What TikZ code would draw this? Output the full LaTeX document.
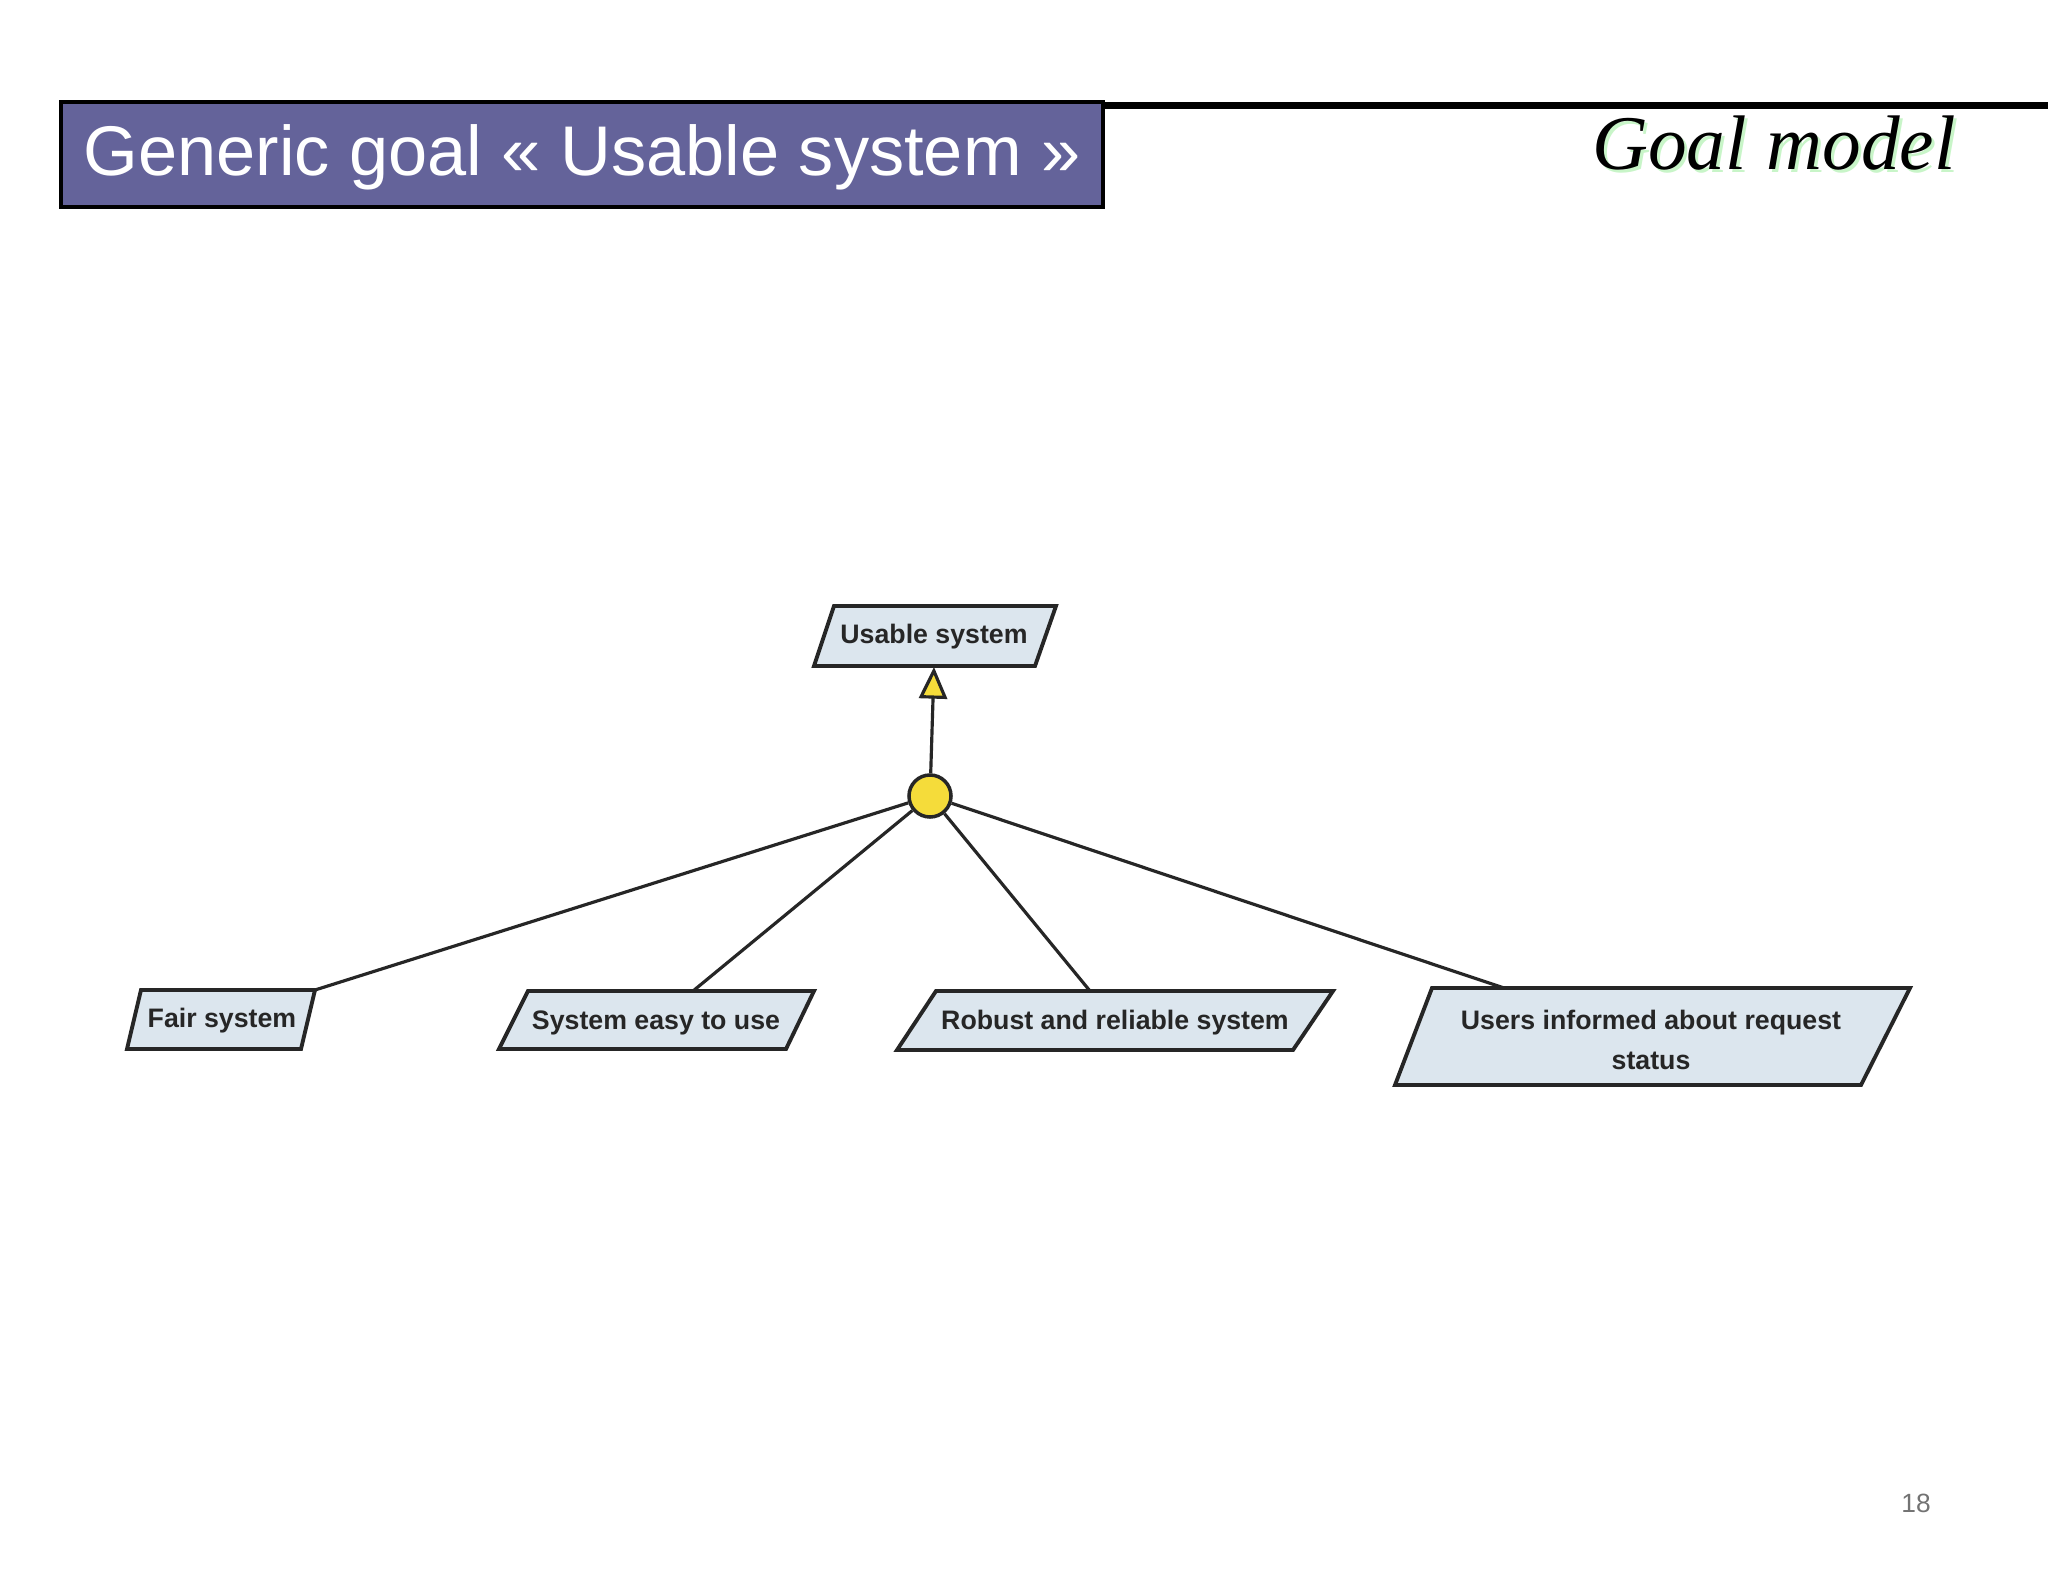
\documentclass[tikz,border=0pt]{standalone}
\usepackage{fontspec}
\setmainfont{Liberation Sans}
\newfontfamily\serifit{Liberation Serif}
\usetikzlibrary{arrows.meta}
\definecolor{titlebg}{HTML}{64639A}
\definecolor{goalfill}{HTML}{DCE6EE}
\definecolor{andfill}{HTML}{F5DC3A}
\definecolor{shadowgreen}{HTML}{C8F5C8}
\begin{document}
\begin{tikzpicture}[x=0.01cm,y=-0.01cm,
  goal/.style={draw=black!85,line width=1.1pt,fill=goalfill},
  gtext/.style={font=\fontsize{7.6}{9.5}\selectfont\bfseries,text=black!85,align=center},
  link/.style={draw=black!85,line width=0.9pt}]
\useasboundingbox (0,0) rectangle (2048,1582);
\fill[white] (0,0) rectangle (2048,1582);
% title
\node[draw=black,line width=1pt,fill=titlebg,minimum width=1042\pgflinewidth,anchor=north west,inner sep=0pt] (title) at (61,102) {};
\fill[titlebg,draw=black,line width=1pt] (61,102) rectangle (1103,207);
\node[text=white,font=\fontsize{20}{24}\selectfont] (ttext) at (582,157) {Generic goal « Usable system »};
% goal model
\node[text=shadowgreen,font=\serifit\itshape\fontsize{22}{26}\selectfont] at (1777,146) {Goal model};
\node[text=black,font=\serifit\itshape\fontsize{22}{26}\selectfont] (gm) at (1774,143) {Goal model};
% top goal
\draw[goal] (834,606) -- (1056,606) -- (1035,666) -- (814,666) -- cycle;
\node[gtext] (usable) at (934,637) {Usable system};
\coordinate (usableB) at (934,667);
% leaves
\draw[goal] (141,990) -- (315,990) -- (301,1049) -- (127,1049) -- cycle;
\node[gtext] (fair) at (222,1021) {Fair system};
\draw[goal] (528,991) -- (814,991) -- (786,1049) -- (499,1049) -- cycle;
\node[gtext] (easy) at (656,1023) {System easy to use};
\draw[goal] (936,991) -- (1333,991) -- (1293,1050) -- (897,1050) -- cycle;
\node[gtext] (robust) at (1115,1023) {Robust and reliable system};
\draw[goal] (1432,988) -- (1910,988) -- (1861,1085) -- (1395,1085) -- cycle;
\node[gtext,font=\fontsize{7.6}{11.2}\selectfont\bfseries] (users) at (1651,1040) {Users informed about request\\status};
\coordinate (fairT) at (315,990);
\coordinate (easyT) at (693,991);
\coordinate (robustT) at (1090,991);
\coordinate (usersT) at (1504,988);
% and node
\node[circle,draw=black!85,line width=1pt,fill=andfill,minimum size=42\pgflinewidth,inner sep=0pt,minimum size=0.42cm] (and) at (930,796) {};
\draw[link] (and) -- (fairT);
\draw[link] (and) -- (easyT);
\draw[link] (and) -- (robustT);
\draw[link] (and) -- (usersT);
\draw[link,-{Triangle[open,fill=andfill,length=9pt,width=8pt]}] (and) -- (usableB);
% page number
\node[text=black!55,font=\fontsize{7.5}{9}\selectfont] (page) at (1916,1503) {18};
\end{tikzpicture}
\end{document}
